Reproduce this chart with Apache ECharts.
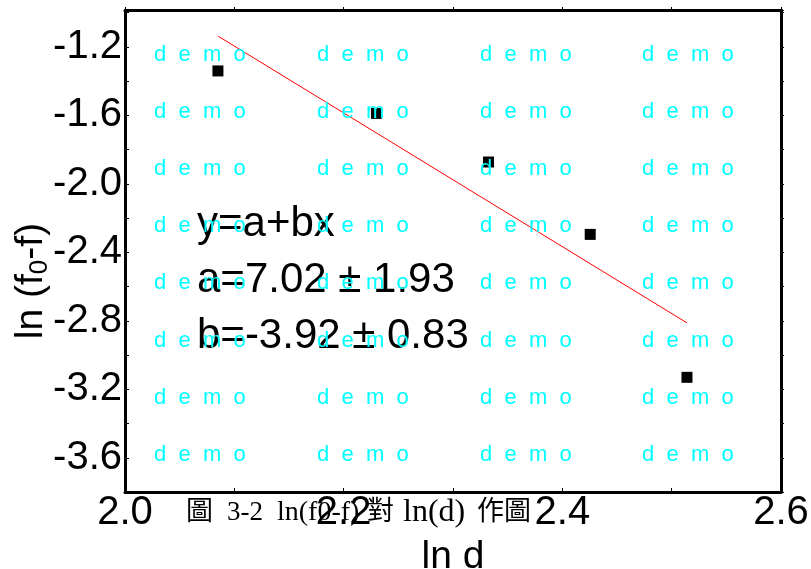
<!DOCTYPE html>
<html><head><meta charset="utf-8">
<script src="https://cdn.jsdelivr.net/npm/echarts@6/dist/echarts.min.js"></script>
<style>html,body{margin:0;padding:0;background:#fff}#c{width:811px;height:569px}</style>
</head><body><div id="c"></div>
<script>
// ---- data ----
const lnD = [2.085, 2.230, 2.3325, 2.4255, 2.514];
const lnF0F = [-1.34, -1.588, -1.872, -2.295, -3.13];
const fitX = [2.085, 2.514];
const fitY = [-1.136, -2.812];
const xTickLabels = ['2.0', '2.2', '2.4', '2.6'];
const yTickLabels = ['-3.6', '-3.2', '-2.8', '-2.4', '-2.0', '-1.6', '-1.2'];
const fitText = ['y=a+bx', 'a=7.02 \u00b1 1.93', 'b=-3.92 \u00b1 0.83'];
const captionParts = ['圖', '3-2', 'ln(f0-f)', '對', 'ln(d)', '作', '圖'];
const watermark = 'd  e  m  o';

const chart = echarts.init(document.getElementById('c'), null, {renderer: 'canvas'});
const SANS = '"Liberation Sans", Arial, sans-serif';
const CAP_FONT = '"Liberation Serif", "Noto Sans CJK TC", serif';

function fmt(list) {
  return function (v) {
    const s = (Math.round(v * 10) / 10).toFixed(1);
    const t = s === '-0.0' ? '0.0' : s;
    return list.indexOf(t) >= 0 ? t : '';
  };
}

const graphics = [];
// watermark grid
const wmCols = [154, 317, 480, 642];
const wmRows = [54.5, 111.5, 168.5, 226, 283, 340.5, 398, 455];
wmRows.forEach(function (y) {
  wmCols.forEach(function (x) {
    graphics.push({type: 'text', x: x, y: y, z: 100, silent: true,
      style: {text: watermark, fill: '#00FFFF', font: '22px ' + SANS, verticalAlign: 'middle', align: 'left'}});
  });
});
// fit equation text
const fitRows = [224, 280, 336];
fitText.forEach(function (t, i) {
  graphics.push({type: 'text', x: 197, y: fitRows[i], z: 50,
    style: {text: t, fill: '#000', font: '42px ' + SANS, verticalAlign: 'middle', align: 'left'}});
});
// caption, segment by segment
const capX = [186, 227, 277, 367, 403, 477, 504];
const capSize = [27, 27, 28, 27, 32, 27, 27];
captionParts.forEach(function (t, i) {
  graphics.push({type: 'text', x: capX[i], y: 513, z: 40,
    style: {text: t, fill: '#000', font: capSize[i] + 'px ' + CAP_FONT, verticalAlign: 'middle', align: 'left'}});
});
// y axis name (rotated, with subscript)
graphics.push({type: 'text', x: 31, y: 281, rotation: Math.PI / 2, z: 40,
  style: {text: '{a|ln (f}{s|0}{a|-f)}', align: 'center', verticalAlign: 'middle',
    rich: {
      a: {fontSize: 39, fontFamily: SANS, fill: '#000', lineHeight: 44},
      s: {fontSize: 26, fontFamily: SANS, fill: '#000', lineHeight: 44, verticalAlign: 'bottom', padding: [14, 0, 0, 0]}
    }}});

const axisLineStyle = {color: '#000', width: 3};
const option = {
  animation: false,
  backgroundColor: '#fff',
  grid: {left: 125, right: 30, top: 10, bottom: 77, containLabel: false, outerBoundsMode: 'none'},
  xAxis: [{
    type: 'value', position: 'bottom', min: 2.0, max: 2.6, interval: 0.1,
    axisLine: {show: true, lineStyle: axisLineStyle},
    axisTick: {show: true, inside: true, length: 4, lineStyle: {color: '#000', width: 1}},
    axisLabel: {show: true, fontSize: 40, fontFamily: SANS, color: '#000', margin: 1, formatter: fmt(xTickLabels), showMinLabel: true, showMaxLabel: true},
    splitLine: {show: false},
    name: 'ln d', nameLocation: 'middle', nameGap: 30,
    nameTextStyle: {fontSize: 39, fontFamily: SANS, color: '#000'}
  }, {
    type: 'value', position: 'top', min: 2.0, max: 2.6, interval: 0.1,
    axisLine: {show: true, lineStyle: axisLineStyle},
    axisTick: {show: true, inside: false, length: 3, lineStyle: {color: '#000', width: 1}},
    axisLabel: {show: false}, splitLine: {show: false}
  }],
  yAxis: [{
    type: 'value', position: 'left', min: -3.8, max: -0.984, interval: 0.2,
    axisLine: {show: true, lineStyle: axisLineStyle},
    axisTick: {show: true, inside: true, length: 4, lineStyle: {color: '#000', width: 1}},
    axisLabel: {show: true, fontSize: 40, fontFamily: SANS, color: '#000', margin: 3, formatter: fmt(yTickLabels)},
    splitLine: {show: false}
  }, {
    type: 'value', position: 'right', min: -3.8, max: -0.984, interval: 0.2,
    axisLine: {show: true, lineStyle: axisLineStyle},
    axisTick: {show: true, inside: false, length: 3, lineStyle: {color: '#000', width: 1}},
    axisLabel: {show: false}, splitLine: {show: false}
  }],
  series: [{
    type: 'scatter', xAxisIndex: 0, yAxisIndex: 0, symbol: 'rect', symbolSize: 11,
    itemStyle: {color: '#000', opacity: 1}, z: 2,
    data: lnD.map(function (x, i) { return [x, lnF0F[i]]; })
  }, {
    type: 'line', xAxisIndex: 0, yAxisIndex: 0, showSymbol: false, symbol: 'none',
    lineStyle: {color: '#FF0000', width: 1}, z: 3,
    data: fitX.map(function (x, i) { return [x, fitY[i]]; })
  }],
  graphic: graphics
};
chart.setOption(option);
</script>
</body></html>
